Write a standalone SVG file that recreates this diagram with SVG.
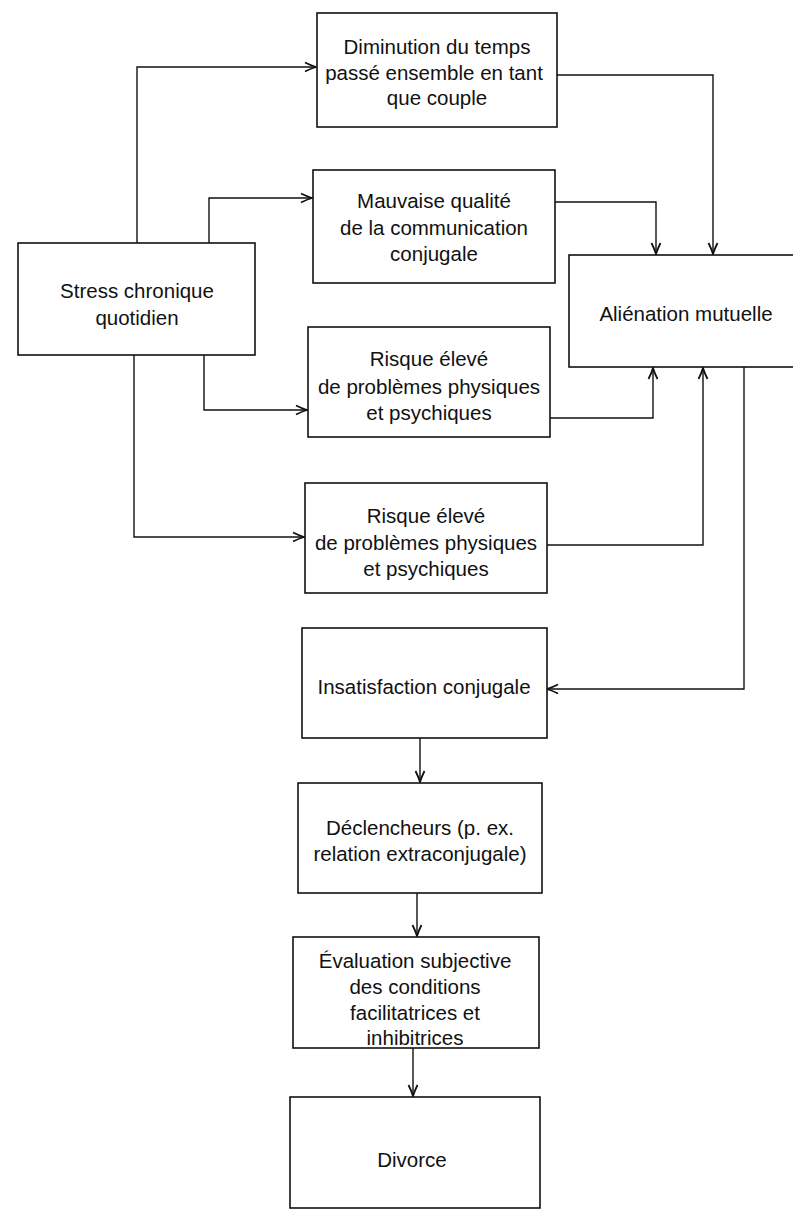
<svg xmlns="http://www.w3.org/2000/svg" width="793" height="1210" viewBox="0 0 793 1210">
<style>
.box{fill:#fff;stroke:#111;stroke-width:1.6}
.t{font-family:"Liberation Sans",Arial,sans-serif;font-size:20.5px;fill:#111;text-anchor:middle;dominant-baseline:central}
.c{fill:none;stroke:#111;stroke-width:1.4;marker-end:url(#ah)}
</style>
<defs>
<marker id="ah" markerUnits="userSpaceOnUse" markerWidth="14" markerHeight="12" viewBox="0 0 14 12" refX="13" refY="6" orient="auto">
<path d="M2,1.5 Q8,4.5 13,6 Q8,7.5 2,10.5" fill="none" stroke="#111" stroke-width="1.8" stroke-linejoin="miter"/>
</marker>
</defs>
<rect width="793" height="1210" fill="#fff"/>
<g id="connectors">
<path class="c" d="M137,243 V67 H316"/>
<path class="c" d="M209,243 V198 H312"/>
<path class="c" d="M204,355 V410 H307"/>
<path class="c" d="M134,355 V537 H304"/>
<path class="c" d="M557,75 H713 V254"/>
<path class="c" d="M555,202 H656 V254"/>
<path class="c" d="M550,418 H653 V368"/>
<path class="c" d="M547,545 H703 V368"/>
<path class="c" d="M744,367 V689 H547"/>
<path class="c" d="M420,738 V782"/>
<path class="c" d="M417,893 V936"/>
<path class="c" d="M413,1048 V1096"/>
</g>
<g id="stress">
<rect class="box" x="18" y="243" width="237" height="112"/>
<text class="t" x="137" y="290">Stress chronique</text>
<text class="t" x="137" y="317">quotidien</text>
</g>
<g id="diminution">
<rect class="box" x="317" y="13" width="240" height="114"/>
<text class="t" x="437" y="46">Diminution du temps</text>
<text class="t" x="434" y="72">passé ensemble en tant</text>
<text class="t" x="437" y="97">que couple</text>
</g>
<g id="mauvaise">
<rect class="box" x="313" y="170" width="242" height="113"/>
<text class="t" x="434" y="200">Mauvaise qualité</text>
<text class="t" x="434" y="227">de la communication</text>
<text class="t" x="434" y="253">conjugale</text>
</g>
<g id="alienation">
<rect class="box" x="569" y="255" width="240" height="112"/>
<text class="t" x="686" y="313">Aliénation mutuelle</text>
</g>
<g id="risque1">
<rect class="box" x="308" y="327" width="242" height="110"/>
<text class="t" x="429" y="358">Risque élevé</text>
<text class="t" x="429" y="386">de problèmes physiques</text>
<text class="t" x="429" y="412">et psychiques</text>
</g>
<g id="risque2">
<rect class="box" x="305" y="483" width="242" height="110"/>
<text class="t" x="426" y="515">Risque élevé</text>
<text class="t" x="426" y="542">de problèmes physiques</text>
<text class="t" x="426" y="568">et psychiques</text>
</g>
<g id="insatisfaction">
<rect class="box" x="302" y="628" width="245" height="110"/>
<text class="t" x="424" y="686">Insatisfaction conjugale</text>
</g>
<g id="declencheurs">
<rect class="box" x="298" y="783" width="244" height="110"/>
<text class="t" x="420" y="827">Déclencheurs (p. ex.</text>
<text class="t" x="420" y="853">relation extraconjugale)</text>
</g>
<g id="evaluation">
<rect class="box" x="293" y="937" width="246" height="111"/>
<text class="t" x="415" y="960">Évaluation subjective</text>
<text class="t" x="415" y="986">des conditions</text>
<text class="t" x="415" y="1012">facilitatrices et</text>
<text class="t" x="415" y="1037">inhibitrices</text>
</g>
<g id="divorce">
<rect class="box" x="290" y="1097" width="250" height="111"/>
<text class="t" x="412" y="1159">Divorce</text>
</g>
</svg>
